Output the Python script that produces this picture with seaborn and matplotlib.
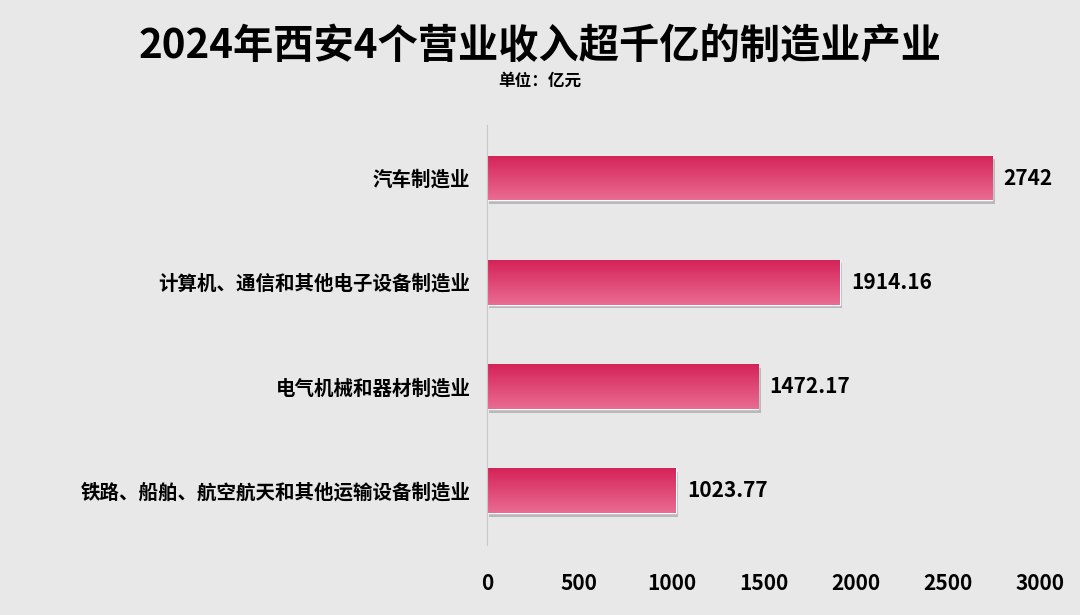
import matplotlib
matplotlib.use("Agg")
import matplotlib.pyplot as plt
import matplotlib.patches as mpatches
import numpy as np
import pandas as pd
import seaborn as sns

categories = ["汽车制造业", "计算机、通信和其他电子设备制造业", "电气机械和器材制造业",
              "铁路、船舶、航空航天和其他运输设备制造业"]
values = [2742, 1914.16, 1472.17, 1023.77]
labels = ["2742", "1914.16", "1472.17", "1023.77"]

sns.set_style("white")
plt.rcParams['font.family'] = ['Noto Sans CJK SC', 'DejaVu Sans']
plt.rcParams['text.color'] = 'black'
plt.rcParams['xtick.color'] = 'black'
plt.rcParams['ytick.color'] = 'black'

bg = "#e8e8e8"
fig = plt.figure(figsize=(10.8, 6.15), dpi=100, facecolor=bg)
ax = fig.add_axes([0.451, 0.114, 0.512, 0.683], facecolor=bg)

df = pd.DataFrame({"cat": categories, "val": values})
sns.barplot(data=df, y="cat", x="val", ax=ax, color="#dc3a6a", width=0.43, orient="h")

# gradient fill (dark top, light bottom) + shadow
grad = np.linspace(0, 1, 256).reshape(-1, 1)
cmap = matplotlib.colors.LinearSegmentedColormap.from_list("g", ["#d42358", "#ea6c92"])
for p in list(ax.patches):
    x0, y0 = p.get_x(), p.get_y()
    w, h = p.get_width(), p.get_height()
    sh = mpatches.Rectangle((x0 + 12, y0 + 0.035), w, h, color="#9a9a9a", alpha=0.6, zorder=1, lw=0)
    ax.add_patch(sh)
    im = ax.imshow(grad, extent=[x0, x0 + w, y0 + h, y0], cmap=cmap, aspect="auto",
                   origin="upper", zorder=2)
    im.set_clip_path(p)
    p.set_zorder(2)
    p.set_facecolor("none")

for i, (v, t) in enumerate(zip(values, labels)):
    ax.text(v + 60, i, t, va="center", ha="left", fontsize=15, fontweight="bold")

ax.set_xlim(0, 3000)
ax.set_ylim(3.52, -0.51)
ax.set_xticks([0, 500, 1000, 1500, 2000, 2500, 3000])
ax.tick_params(axis="x", labelsize=15, length=0, pad=20)
ax.tick_params(axis="y", labelsize=14, length=0, pad=12)
for lab in ax.get_xticklabels() + ax.get_yticklabels():
    lab.set_fontweight("bold")
ax.set_xlabel("")
ax.set_ylabel("")
for s in ["top", "right", "bottom"]:
    ax.spines[s].set_visible(False)
ax.spines["left"].set_color("#c8c8c8")

fig.text(0.5, 0.925, "2024年西安4个营业收入超千亿的制造业产业", ha="center", va="center",
         fontsize=29, fontweight="bold")
fig.text(0.5, 0.868, "单位：亿元", ha="center", va="center", fontsize=12, fontweight="bold")

fig.savefig("out.png", dpi=100, facecolor=bg)
